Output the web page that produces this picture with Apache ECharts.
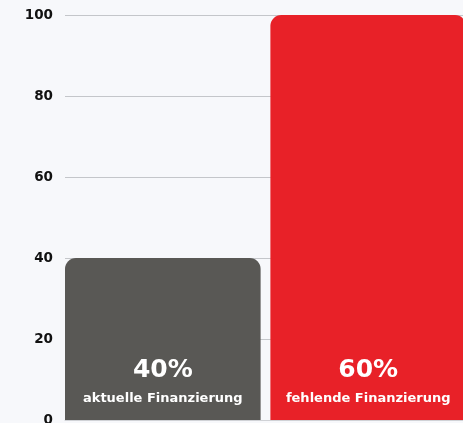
<!DOCTYPE html>
<html lang="de">
<head>
    <meta charset="UTF-8">
    <title>finanzierung-bar</title>
    <script src="https://cdn.jsdelivr.net/npm/echarts@6/dist/echarts.min.js"></script>
    <style>
        html, body {
            margin: 0;
            padding: 0;
            background: #f7f8fb;
        }
        #main {
            width: 463px;
            height: 423px;
        }
    </style>
</head>
<body>
<div id="main"></div>
<script>
    // daten
    const category = ['Finanzierung'];
    const seriesNames = ['aktuelle Finanzierung', 'fehlende Finanzierung'];
    const seriesValues = [40, 100];
    const percentLabels = ['40%', '60%'];
    const seriesColors = ['#595855', '#e82128'];
    const yTicks = [0, 20, 40, 60, 80, 100];

    const FONT = '"DejaVu Sans", Verdana, sans-serif';

    //每个系列一根柱子
    const series = seriesNames.map((name, i) => ({
        name: name,
        type: 'bar',
        data: [seriesValues[i]],
        barGap: '5%',
        barCategoryGap: 0,
        itemStyle: {
            color: seriesColors[i],
            borderRadius: [11, 11, 0, 0]
        },
        label: {
            show: true,
            position: 'insideBottom',
            distance: 8,
            formatter: '{big|' + percentLabels[i] + '}\n{small|' + name + '}',
            rich: {
                big: {
                    fontFamily: FONT,
                    fontWeight: 'bold',
                    fontSize: 25,
                    color: '#ffffff',
                    lineHeight: 32
                },
                small: {
                    fontFamily: FONT,
                    fontWeight: 'bold',
                    fontSize: 13,
                    color: '#ffffff',
                    lineHeight: 26
                }
            }
        }
    }));

    const myChart = echarts.init(document.getElementById('main'), null, {renderer: 'canvas'});
    myChart.setOption({
        backgroundColor: '#f7f8fb',
        animation: false,
        grid: {
            left: 65,
            right: -3,
            top: 15,
            bottom: 3,
            outerBoundsMode: 'none',
            containLabel: false
        },
        xAxis: {
            type: 'category',
            data: category,
            axisLine: {show: true, lineStyle: {color: '#d0d2d6'}},
            axisTick: {show: false},
            axisLabel: {show: false}
        },
        yAxis: {
            type: 'value',
            min: yTicks[0],
            max: yTicks[yTicks.length - 1],
            interval: 20,
            axisLine: {show: false},
            axisTick: {show: false},
            axisLabel: {
                margin: 12,
                color: '#111111',
                fontFamily: FONT,
                fontWeight: 'bold',
                fontSize: 13.5
            },
            splitLine: {lineStyle: {color: '#c4c6ca', width: 1}}
        },
        series: series
    });
</script>
</body>
</html>
